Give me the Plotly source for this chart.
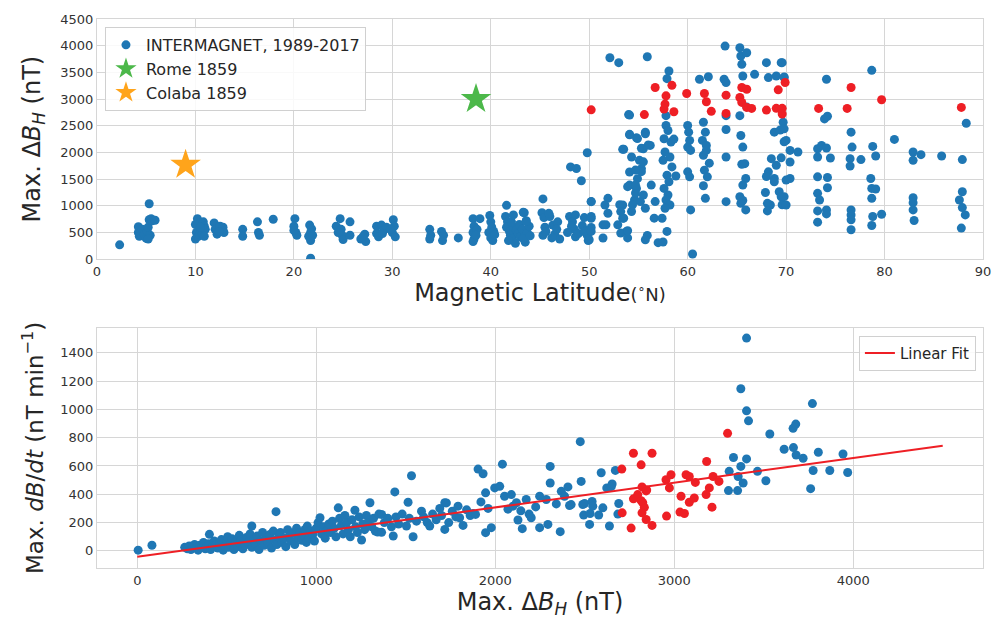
import plotly.graph_objects as go

# ---------------- Top panel: Magnetic latitude vs Max dBH ----------------
top_blue_lat = [
    2.3, 4.2, 4.2, 4.3, 4.6, 4.8, 5.0, 5.1, 5.2, 5.3, 5.3, 5.5, 5.6, 5.9, 5.4, 5.2,
    10.2, 10.0, 10.1, 10.0, 10.3, 10.6, 10.8, 10.9, 10.4, 10.7, 11.0, 10.5, 10.9,
    11.9, 12.0, 12.2, 12.5, 12.8, 12.9, 12.4,
    14.8, 14.8, 16.3, 16.4, 16.5, 17.9,
    20.1, 20.0, 20.2, 20.3, 20.0,
    21.6, 21.8, 21.7, 21.5, 21.7, 21.9, 21.7,
    24.3, 24.7, 24.8, 24.9, 25.0, 25.7, 25.7, 24.5,
    26.8, 27.2, 27.3, 27.0,
    28.4, 28.4, 28.6, 28.9, 29.1, 29.4, 29.0, 30.1, 30.2, 30.0, 30.3, 29.8,
    33.8, 33.9, 33.8, 35.0, 35.2, 35.1, 36.7,
    38.2, 38.3, 38.2, 38.3, 38.2, 38.6, 38.9, 38.5,
    39.9, 40.0, 40.1, 39.8, 40.0, 40.2, 40.3, 40.4,
    41.6, 41.5, 41.7, 41.6, 41.9, 42.0, 42.2, 42.3, 42.5, 42.6, 42.8, 42.9, 43.0,
    43.2, 43.4, 43.5, 43.7, 43.9, 43.6, 43.3, 42.1, 41.8, 44.0, 42.3, 43.3, 43.6,
    45.3, 45.2, 45.4, 45.5, 45.3, 45.6, 46.0, 46.3, 46.5, 46.8, 46.7, 47.0, 46.2, 45.9,
    48.1, 48.7, 49.2, 49.8, 50.2, 48.0, 48.3, 48.5, 48.6, 48.9, 49.3, 49.5, 49.7,
    49.9, 49.8, 48.2, 47.8, 48.6, 50.2, 50.2, 50.0, 49.5,
    52.1, 53.0, 55.9, 58.1, 57.9, 54.0, 53.4, 54.1, 54.8, 55.7, 56.2, 54.3, 55.1,
    55.5, 55.3, 54.1, 54.9, 56.3, 54.1, 54.8, 55.5, 54.6, 53.4, 54.3, 53.4, 53.8,
    55.9, 51.9, 51.6, 51.9, 51.4, 51.7, 51.4, 50.2, 50.2, 50.2,
    53.1, 53.2, 52.9, 53.2, 53.9, 53.5, 53.9, 54.4, 54.7, 55.2, 55.7, 55.7, 53.9,
    54.7, 55.3, 55.5, 54.7, 53.5, 54.1, 54.9, 55.7, 56.0, 55.3, 54.1, 56.6, 57.0, 56.7,
    57.8, 58.0, 57.6, 58.3, 57.7, 58.2, 57.5, 58.4, 57.9, 58.1, 57.6, 58.0, 57.8,
    58.2, 57.7, 57.4, 57.9, 57.5, 57.8, 58.6, 58.8,
    60.0, 60.1, 60.2, 60.0, 60.3, 60.0, 60.2, 60.3, 60.5,
    61.6, 61.8, 61.5, 61.9, 61.6, 61.7, 62.0, 61.6, 61.8, 61.2, 62.1, 61.9, 62.2,
    63.8, 63.7, 63.9, 63.9, 63.9, 63.9, 63.9,
    65.3, 65.4, 65.5, 65.6, 65.3, 65.4, 65.6, 65.8, 65.9, 65.6, 66.0, 65.5, 65.6,
    65.3, 66.0, 65.4, 65.9,
    66.8, 68.0, 69.5, 68.2, 69.0, 69.8, 68.8,
    68.5, 69.0, 68.2, 68.8, 69.3, 68.4, 69.5, 68.0, 68.8, 67.9, 68.1, 68.1, 69.4, 69.8,
    69.5, 69.6,
    69.6, 69.8, 69.7, 69.8, 70.0, 70.4, 71.2, 70.4, 70.4, 70.0, 69.8, 70.0,
    74.1, 73.9, 74.2, 73.2, 73.6, 74.1, 73.2, 74.5, 73.2, 74.2, 74.2, 73.2, 73.4,
    73.2, 74.1, 74.1, 73.2,
    76.6, 76.7, 76.5, 76.5, 77.6, 76.6, 76.6, 76.6, 76.6,
    78.7, 78.8, 79.1, 78.6, 78.7, 79.1, 78.7, 78.8, 79.7, 78.7,
    81.0, 82.9, 83.7, 82.9, 82.9, 82.9, 82.9, 83.0, 85.8,
    87.9, 87.9, 87.6, 87.9, 88.2, 87.8, 88.3,
]
top_blue_dbh = [
    270, 610, 500, 430, 560, 470, 390, 520, 600, 1040, 740, 760, 720, 730, 450, 380,
    760, 650, 500, 380, 430, 560, 700, 620, 470, 480, 560, 600, 430,
    680, 560, 470, 620, 600, 500, 520,
    560, 430, 700, 500, 450, 750,
    760, 620, 500, 450, 540,
    640, 570, 500, 430, 350, 450, 20,
    620, 760, 560, 450, 370, 700, 450, 500,
    380, 470, 330, 420,
    620, 480, 420, 640, 540, 600, 480, 740, 620, 500, 420, 560,
    560, 450, 380, 520, 450, 350, 400,
    760, 620, 500, 380, 330, 560, 760, 450,
    820, 700, 600, 500, 400, 350, 520, 460,
    1010, 800, 700, 600, 520, 450, 380, 600, 300, 540, 480, 650, 420,
    560, 870, 320, 500, 620, 720, 390, 700, 350, 440, 830, 880, 706,
    1130, 870, 780, 600, 450, 520, 800, 640, 470, 700, 560, 380, 400, 860,
    1730, 1700, 1470, 1995, 1080, 800, 700, 560, 420, 480, 630, 780, 540,
    350, 450, 620, 500, 830, 800, 595, 365, 520,
    3775, 3682, 3793, 3527, 3382, 2709, 2058, 2330, 2274, 2380, 2132, 1915, 1853,
    2070, 1698, 1635, 1510, 1389, 1389, 1327, 1203, 1110, 1017, 895, 768, 521,
    446, 1141, 1017, 862, 645, 645, 397, 1079, 768, 521,
    1020, 893, 645, 490, 400, 770, 533, 1020, 1240, 1080, 955, 365, 1360,
    1390, 1640, 1825, 1670, 2060, 2340, 2260, 2350, 2140, 2080, 2700, 770, 310, 1080,
    2505, 2412, 2257, 2194, 2008, 1915, 1853, 1730, 1575, 1451, 1327, 1203, 1110,
    1017, 955, 768, 521, 323, 2690, 2250, 1560,
    2505, 2380, 2226, 2101, 2039, 1637, 1544, 924, 99,
    2567, 2380, 2226, 2132, 1947, 1668, 1544, 1377, 1141, 3371, 3419, 2040, 1800,
    3992, 3371, 3309, 2690, 2430, 1915, 1079,
    3961, 3806, 3651, 3433, 2690, 2318, 2101, 1791, 1513, 1389, 3868, 1780, 1100,
    1170, 2850, 1047, 924,
    3464, 3682, 3682, 3402, 3433, 3402, 2380,
    1884, 1760, 1637, 1513, 1265, 1017, 1900, 1550, 1450, 1250, 1047, 905, 2420, 2200,
    1171, 1020,
    3682, 3415, 2567, 2443, 2226, 2039, 2008, 1822, 1513, 1482, 1172, 1017,
    3371, 2629, 2678, 2070, 2132, 2083, 1915, 1897, 1544, 1532, 1340, 1234, 1110,
    905, 924, 849, 694,
    2380, 2101, 1884, 1747, 1866, 924, 831, 738, 552,
    3539, 2114, 1934, 1513, 1327, 1315, 1141, 800, 843, 633,
    2244, 2008, 1959, 1853, 1153, 1060, 924, 725, 1934,
    1866, 1265, 1110, 967, 831, 583, 2548,
]
top_red_lat = [
    50.2, 55.6, 56.7, 58.4, 57.8, 57.7, 57.6, 58.6, 59.9, 61.7, 61.9, 62.4, 63.9,
    63.9, 65.5, 66.0, 65.3, 65.5, 66.0, 66.5, 68.0, 69.0, 69.6, 69.6, 69.2, 69.9,
    73.3, 76.6, 76.2, 79.7, 87.8,
]
top_red_dbh = [
    2799, 2709, 3216, 3257, 3061, 2906, 2813, 2763, 3104, 3104, 2949, 2770, 3073,
    2732, 3216, 3185, 3030, 2937, 2844, 2825, 2794, 2826, 2826, 2720, 3173, 3310,
    2825, 3216, 2825, 2987, 2844,
]
rome_lat, rome_dbh = [38.5], [3000]
colaba_lat, colaba_dbh = [9.0], [1770]

# ---------------- Bottom panel: Max dBH vs Max dB/dt ----------------
bot_blue_dbh = [
    5, 82,
    265, 280, 290, 300, 310, 320, 330, 340, 350, 360, 370, 380, 390, 400, 403, 410,
    420, 430, 440, 450, 460, 470, 480, 490, 500, 505, 510, 520, 530, 540, 550, 560,
    570, 575, 580, 590, 600, 610, 620, 630, 640, 640, 650, 660, 670, 680, 690, 700,
    710, 720, 730, 740, 750, 760, 770, 775, 780, 790, 800, 810, 820, 830, 840, 850,
    860, 870, 880, 890, 900, 910, 920, 930, 937, 945, 950, 960, 970, 980, 990, 1000,
    1010, 1021, 1030, 1040, 1050, 1060, 1070, 1080, 1090, 1100, 1110, 1123, 1130,
    1140, 1150, 1160, 1170, 1180, 1190, 1200, 1216, 1220, 1230, 1240, 1253, 1260,
    1270, 1280, 1290, 1300, 1310, 1320, 1330, 1343, 1350, 1365, 1365, 1380, 1400,
    1420, 1430, 1439, 1445, 1460, 1480, 1504, 1513, 1520, 1532, 1541, 1560, 1588,
    1600, 1620, 1634, 1650, 1670, 1690, 1700, 1718, 1718, 1727, 1740, 1760, 1780,
    1792, 1801, 1820, 1840, 1860, 1876, 1890, 1904, 1920, 1932, 1946, 1946, 1960,
    1978, 1997, 2025, 2040, 2052, 2071, 2090, 2099, 2118, 2127, 2143, 2151, 2173,
    2189, 2201, 2226, 2248, 2248, 2285, 2294, 2307, 2307, 2341, 2363, 2369, 2387,
    2406, 2415, 2424, 2475, 2480, 2489, 2494, 2499, 2527, 2530, 2541, 2545, 2578,
    2592, 2601, 2623, 2638, 2648, 2653, 2671, 2685, 2690,
    3404, 3372, 3404, 3415, 3534, 3772, 3664, 3679, 3614, 3666, 3681, 3720, 3805,
    3943, 3776, 3869, 3969, 3762, 3331, 3404, 3372, 3307, 3357, 3385, 3465, 3512,
    3303, 3354,
]
bot_blue_dbdt = [
    5, 40,
    25, 15, 35, 10, 30, 45, 20, 5, 40, 25, 60, 15, 35, 50, 117, 10,
    30, 70, 45, 20, 55, 80, 5, 35, 60, 100, 25, 45, 85, 10, 65, 30,
    110, 50, 75, 15, 40, 95, 60, 120, 176, 25, 80, 50, 105, 10, 70, 130,
    40, 90, 60, 115, 20, 140, 75, 277, 45, 100, 130, 60, 90, 30, 150, 110,
    70, 125, 45, 160, 95, 130, 75, 110, 152, 60, 175, 90, 140, 115, 70, 160,
    200, 234, 120, 170, 90, 145, 190, 130, 210, 160, 100, 304, 230,
    180, 120, 250, 200, 150, 100, 220, 287, 170, 130, 240, 77, 190,
    150, 250, 200, 340, 170, 230, 140, 133, 260, 258, 131, 200, 230,
    170, 105, 417, 240, 190, 260, 176, 344, 230, 531, 100, 210, 281,
    240, 200, 176, 260, 220, 300, 250, 340, 152, 339, 200, 280, 240,
    316, 234, 180, 290, 250, 264, 258, 578, 346, 545, 410, 129, 300,
    164, 445, 456, 613, 386, 295, 398, 316, 340, 218, 283, 157, 363,
    260, 234, 311, 164, 387, 363, 187, 597, 480, 332, 136, 421, 386,
    452, 321, 327, 772, 491, 328, 253, 335, 187, 264, 349, 316, 253,
    552, 304, 445, 176, 454, 473, 569, 260, 335,
    1504, 1146, 990, 919, 826, 1041, 866, 896, 718, 730, 678, 655, 697,
    685, 568, 568, 554, 440, 660, 650, 597, 562, 526, 480, 562, 496,
    426, 426,
]
bot_red_dbh = [
    2707, 2772, 2815, 2876, 2709, 2759, 2772, 2796, 2820, 2846, 2824, 2833, 2820,
    2843, 2876, 2954, 2982, 2973, 2957, 3038, 3066, 3084, 3118, 3084, 3112, 3032,
    3057, 3181, 3196, 3178, 3217, 3250, 3211, 3298, 2843, 2815,
]
bot_red_dbdt = [
    578, 690, 608, 690, 269, 161, 368, 398, 452, 431, 340, 308, 269,
    222, 180, 503, 538, 445, 246, 386, 538, 526, 484, 344, 374, 274,
    264, 632, 445, 398, 526, 491, 309, 831, 424, 355,
]
# linear fit: dBdt = intercept + slope * dBH
fit_intercept = -42.0
fit_slope = 0.1746
fit_x = [0, 4500]
fit_y = [fit_intercept + fit_slope * v for v in fit_x]

BLUE = "#1f77b4"
RED = "#ee1f25"
GREEN = "#4cb84a"
ORANGE = "#ffa41b"
GRID = "#d6d6d6"
FONT = "DejaVu Sans"

fig = go.Figure()
fig.add_trace(go.Scatter(x=top_blue_lat, y=top_blue_dbh, mode="markers",
                         marker=dict(color=BLUE, size=9),
                         name="INTERMAGNET, 1989-2017", xaxis="x", yaxis="y", legend="legend"))
fig.add_trace(go.Scatter(x=top_red_lat, y=top_red_dbh, mode="markers",
                         marker=dict(color=RED, size=9), showlegend=False,
                         xaxis="x", yaxis="y"))
fig.add_trace(go.Scatter(x=rome_lat, y=rome_dbh, mode="markers",
                         marker=dict(color=GREEN, size=23, symbol="star"),
                         name="Rome 1859", xaxis="x", yaxis="y", legend="legend"))
fig.add_trace(go.Scatter(x=colaba_lat, y=colaba_dbh, mode="markers",
                         marker=dict(color=ORANGE, size=23, symbol="star"),
                         name="Colaba 1859", xaxis="x", yaxis="y", legend="legend"))

fig.add_trace(go.Scatter(x=bot_blue_dbh, y=bot_blue_dbdt, mode="markers",
                         marker=dict(color=BLUE, size=9), showlegend=False,
                         xaxis="x2", yaxis="y2"))
fig.add_trace(go.Scatter(x=bot_red_dbh, y=bot_red_dbdt, mode="markers",
                         marker=dict(color=RED, size=9), showlegend=False,
                         xaxis="x2", yaxis="y2"))
fig.add_trace(go.Scatter(x=fit_x, y=fit_y, mode="lines",
                         line=dict(color=RED, width=2),
                         name="Linear Fit", xaxis="x2", yaxis="y2", legend="legend2"))

axis_common = dict(showgrid=True, gridcolor=GRID, gridwidth=1.2, zeroline=False,
                   showline=True, linecolor=GRID, linewidth=1.2, mirror=True,
                   ticks="", tickfont=dict(family=FONT, size=13, color="#333333"))

fig.update_layout(
    width=1003, height=621,
    margin=dict(l=97, r=20, t=16, b=52),
    paper_bgcolor="white", plot_bgcolor="white",
    font=dict(family=FONT, color="#262626"),
    xaxis=dict(domain=[0, 1], range=[0, 90], dtick=10, anchor="y",
               title=dict(text="Magnetic Latitude<span style='font-size:18px'>(<sup>∘</sup>N)</span>",
                          font=dict(size=24), standoff=4),
               **axis_common),
    yaxis=dict(domain=[0.5624, 1], range=[0, 4500], dtick=500, anchor="x",
               title=dict(text="Max. Δ<i>B</i><sub><i>H</i></sub> (nT)",
                          font=dict(size=24), standoff=12),
               **axis_common),
    xaxis2=dict(domain=[0, 1], range=[-225, 4725], tickvals=[0, 1000, 2000, 3000, 4000],
                anchor="y2",
                title=dict(text="Max. Δ<i>B</i><sub><i>H</i></sub> (nT)",
                           font=dict(size=24), standoff=4),
                **axis_common),
    yaxis2=dict(domain=[0, 0.4376], range=[-121, 1577], dtick=200, anchor="x2",
                title=dict(text="Max. <i>dB</i>/<i>dt</i> (nT min<sup>−1</sup>)",
                           font=dict(size=23), standoff=10),
                **axis_common),
    legend=dict(x=0.009, y=0.9855, xanchor="left", yanchor="top",
                bgcolor="rgba(255,255,255,0.85)", bordercolor="#d0d0d0", borderwidth=1,
                font=dict(family=FONT, size=16, color="#262626"),
                tracegroupgap=0, itemsizing="trace"),
    legend2=dict(x=0.992, y=0.423, xanchor="right", yanchor="top",
                 bgcolor="rgba(255,255,255,0.85)", bordercolor="#d0d0d0", borderwidth=1,
                 font=dict(family=FONT, size=15, color="#262626")),
)

fig.write_html("out.html", config={"displayModeBar": False},
               post_script="document.body.style.margin='0';document.body.style.padding='0';")
